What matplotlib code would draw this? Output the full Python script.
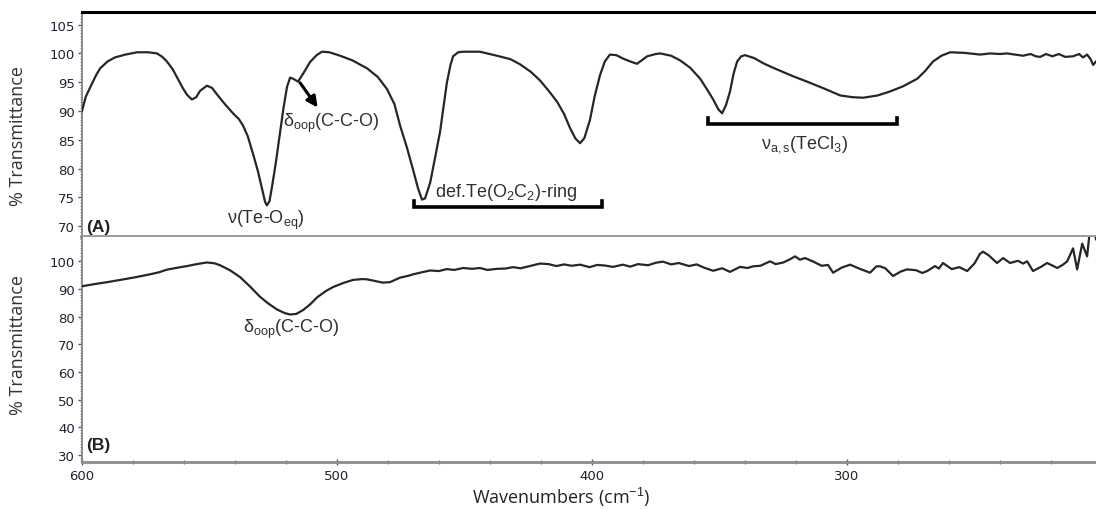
import matplotlib
matplotlib.use("Agg")
import matplotlib.pyplot as plt
from matplotlib.ticker import MultipleLocator, FixedLocator

plt.rcParams['font.family'] = ['Liberation Sans', 'DejaVu Sans']
plt.rcParams['mathtext.fontset'] = 'custom'
plt.rcParams['mathtext.rm'] = 'Liberation Sans'
plt.rcParams['mathtext.it'] = 'Liberation Sans:italic'
plt.rcParams['mathtext.bf'] = 'Liberation Sans:bold'

# ---------------- data ----------------
wn_a = [600, 598.5, 596.9, 594.5, 592.9, 590, 587.1, 583, 578.4, 574, 570.6, 568.5, 566.7,
        564.5, 562.7, 560.5, 558.8, 556.9, 555.2, 553.7, 551.0, 549, 547.1, 544, 540.8,
        538.5, 536.9, 535, 532.9, 531, 529.4, 528.2, 527.5, 526.5, 525.5, 524, 522.4, 521,
        519.6, 518.4, 517.2, 515.3, 513, 510.6, 508, 505.9, 503, 498.8, 494, 488.2, 484,
        480.4, 477.5, 475.3, 472.5, 470.2, 468.2, 466.7, 465.5, 463.5, 461.5, 459.6, 458,
        456.9, 455.5, 454.5, 452.5, 450.6, 444, 437.3, 432, 428.2, 424, 420.4, 417, 413.7,
        411, 408.6, 406.5, 404.7, 403, 400.8, 399, 396.9, 395, 393.0, 390.5, 387.8, 385,
        382.4, 380.5, 378.4, 375, 373.3, 369, 365.5, 361.5, 357.6, 355, 352.5, 350.5, 349.0,
        347.5, 345.9, 344.5, 343.1, 341.5, 340, 336.5, 332.9, 329.5, 326.3, 321, 315.7, 309,
        302.7, 298, 293.7, 288, 283.1, 278, 272.5, 269.5, 266.3, 263, 259.6, 254, 250, 247.8,
        244, 240, 237.3, 234, 231, 228, 226, 224.3, 222, 219.5, 217, 214.5, 211.4, 209,
        207.5, 205.9, 204.5, 203.5, 202.4]
t_a = [90.0, 92.5, 94.0, 96.2, 97.4, 98.6, 99.3, 99.8, 100.2, 100.2, 100.0, 99.4, 98.6,
       97.3, 95.8, 94.0, 92.8, 92.0, 92.4, 93.5, 94.4, 94.0, 92.9, 91.2, 89.6,
       88.6, 87.5, 85.6, 82.5, 79.5, 76.5, 74.2, 73.6, 74.3, 76.8, 81.0, 86.0, 90.5,
       94.2, 95.8, 95.6, 95.1, 96.7, 98.5, 99.7, 100.3, 100.2, 99.6, 98.8, 97.4, 95.9,
       93.8, 91.2, 87.5, 83.5, 79.8, 76.5, 74.6, 74.8, 77.5, 82.0, 86.4, 91.5,
       95.0, 98.0, 99.5, 100.2, 100.3, 100.3, 99.6, 99.0, 98.1, 96.8, 95.3, 93.5, 91.6,
       89.5, 87.0, 85.2, 84.4, 85.3, 88.5, 92.5, 96.2, 98.6, 99.8, 99.7, 99.1, 98.6,
       98.2, 98.8, 99.5, 99.9, 100.0, 99.6, 98.8, 97.5, 95.6, 93.8, 92.0, 90.3, 89.6,
       91.0, 93.4, 96.5, 98.6, 99.5, 99.7, 99.2, 98.3, 97.6, 97.0, 96.0, 95.1, 93.9,
       92.7, 92.4, 92.3, 92.7, 93.4, 94.3, 95.6, 96.9, 98.6, 99.6, 100.2, 100.1, 99.9, 99.8,
       100.0, 99.9, 100.0, 99.8, 99.6, 99.9, 99.5, 99.4, 99.9, 99.5, 99.9, 99.4, 99.5, 99.9,
       99.3, 99.8, 99.0, 98.0, 98.6]

wn_b = [600, 595, 590, 585, 580, 575, 570, 566.7, 562, 558.8, 555, 551, 548, 545.9, 542,
        538, 534, 530.2, 527, 523.5, 520.5, 518.4, 516, 513.3, 510.5, 507.8, 504.5, 501.6,
        497.5, 493.7, 490, 488.2, 485, 482, 479.2, 477, 475.3, 472, 470.2, 467, 463.5, 460,
        457, 454, 450.6, 447, 444, 441, 437.3, 434, 431, 428, 424, 420.4, 417, 414, 411,
        408, 404.7, 401, 398, 395, 391.8, 388, 385, 382, 378, 375, 372.2, 369, 366, 362,
        359, 356, 352.5, 349, 345.9, 342, 339, 336.9, 334, 330.2, 328, 325, 322.5, 320.4,
        318.5, 316.5, 313, 310, 307.5, 305.5, 302, 298.8, 295, 291.0, 288.5, 287.1, 285,
        282.0, 279, 276.5, 273, 270.5, 268.6, 265.5, 264, 262.4, 259, 256, 252.9, 250, 248,
        246.7, 244.5, 241.2, 238.8, 236.1, 233, 231, 229.4, 227.1, 224, 221.6, 219.5, 217.6,
        215.5, 213.7, 211.4, 209.8, 207.8, 205.9, 204.7, 203, 202.4]
t_b = [91.0, 91.8, 92.5, 93.3, 94.1, 95.0, 96.0, 97.0, 97.8, 98.3, 99.0, 99.6, 99.3, 98.6, 96.8,
       94.3, 90.8, 87.2, 84.8, 82.6, 81.3, 80.8, 81.0, 82.4, 84.5, 87.0, 89.2, 90.7,
       92.2, 93.3, 93.6, 93.5, 92.9, 92.3, 92.5, 93.4, 94.1, 94.8, 95.3, 96.0, 96.7, 96.5,
       97.2, 96.9, 97.6, 97.3, 97.6, 96.9, 97.3, 97.4, 97.9, 97.5, 98.4, 99.2, 99.0, 98.3, 98.9,
       98.4, 98.8, 97.9, 98.7, 98.5, 98.0, 98.8, 98.1, 99.0, 98.6, 99.5, 99.9, 98.9, 99.4, 98.3,
       98.9, 97.7, 96.6, 97.5, 96.2, 98.0, 97.6, 98.2, 98.4, 100.0, 99.0, 99.6, 100.7, 101.8,
       100.6, 101.2, 99.8, 98.4, 98.7, 95.9, 97.8, 98.8, 97.3, 95.9, 98.2, 98.2, 97.5,
       94.7, 96.3, 97.1, 96.8, 95.8, 96.5, 98.3, 97.4, 99.4, 97.2, 97.9, 96.5, 99.3, 102.6,
       103.5, 102.2, 99.4, 101.2, 99.4, 100.2, 99.2, 100.0, 96.5, 98.0, 99.4, 98.5, 97.6,
       98.7, 100.0, 104.7, 97.1, 106.4, 101.8, 112, 112, 108]

yticks_a = [70, 75, 80, 85, 90, 95, 100, 105]
yticks_b = [30, 40, 50, 60, 70, 80, 90, 100]
xticks = [600, 500, 400, 300]

# ---------------- figure ----------------
fig = plt.figure(figsize=(10.96, 5.10), dpi=100)
L, W = 82 / 1096, 1 - 82 / 1096
axA = fig.add_axes([L, 1 - 238 / 510, W, 225 / 510])
axB = fig.add_axes([L, 1 - 463 / 510, W, 225 / 510])

line_c = '#262626'
spine_gray = '#8c8c8c'
tick_c = '#1f2233'

axA.plot(wn_a, t_a, color=line_c, lw=1.6, zorder=3)
axB.plot(wn_b, t_b, color=line_c, lw=1.6, zorder=3)

for ax in (axA, axB):
    ax.set_xlim(600, 202.4)
    ax.spines['right'].set_visible(False)
    ax.spines['left'].set_color(spine_gray)
    ax.spines['left'].set_linewidth(1.4)
    ax.tick_params(axis='y', which='major', direction='out', length=3, width=1,
                   color='#555555', labelsize=9.5, labelcolor=tick_c, pad=2)
    ax.tick_params(axis='y', which='minor', direction='out', length=1.5, width=0.6,
                   color='#777777')
    ax.xaxis.set_major_locator(FixedLocator(xticks))
    ax.xaxis.set_minor_locator(MultipleLocator(20))

axA.set_ylim(68.1, 107.2)
axA.yaxis.set_major_locator(FixedLocator(yticks_a))
axA.yaxis.set_minor_locator(MultipleLocator(0.5))
axA.spines['top'].set_color('black')
axA.spines['top'].set_linewidth(2.2)
axA.spines['bottom'].set_color('#9a9a9a')
axA.spines['bottom'].set_linewidth(2.8)
axA.tick_params(axis='x', which='both', length=0, labelbottom=False)

axB.set_ylim(27.5, 108.8)
axB.yaxis.set_major_locator(FixedLocator(yticks_b))
axB.yaxis.set_minor_locator(MultipleLocator(1))
axB.spines['top'].set_visible(False)
axB.spines['bottom'].set_color(spine_gray)
axB.spines['bottom'].set_linewidth(2.0)
axB.tick_params(axis='x', which='major', direction='inout', length=4, width=1,
                color='#555555', labelsize=9.5, labelcolor=tick_c, pad=3)
axB.tick_params(axis='x', which='minor', direction='inout', length=3, width=0.8,
                color='#666666')

axA.set_yticklabels([str(v) for v in yticks_a], family='DejaVu Sans')
axB.set_yticklabels([str(v) for v in yticks_b], family='DejaVu Sans')
axB.set_xticklabels([str(v) for v in xticks], family='DejaVu Sans')

txt_c = '#303030'
fs = 13

# panel letters
axA.text(598.4, 69.9, '(A)', fontsize=12.5, fontweight='bold', va='center', ha='left', color='#222')
axB.text(598.4, 34.0, '(B)', fontsize=12.5, fontweight='bold', va='center', ha='left', color='#222')

# annotations panel A
axA.text(527.8, 71.2, 'ν(Te-O$_{\\mathrm{eq}}$)', fontsize=fs, ha='center', va='center', color=txt_c)
axA.text(521.2, 88.0, 'δ$_{\\mathrm{oop}}$(C-C-O)', fontsize=fs, ha='left', va='center', color=txt_c)
axA.annotate('', xy=(507.6, 90.6), xytext=(514.5, 94.9),
             arrowprops=dict(arrowstyle='-|>', lw=2.2, color='black', mutation_scale=16,
                             shrinkA=0, shrinkB=0))
axA.text(461.5, 76.0, 'def.Te(O$_{2}$C$_{2}$)-ring', fontsize=fs, ha='left', va='center',
         color=txt_c, bbox=dict(facecolor='white', edgecolor='none', pad=0.3), zorder=4)
axA.plot([470, 470, 396.2, 396.2], [74.3, 73.3, 73.3, 74.3], color='black', lw=2.6,
         solid_joinstyle='miter', zorder=5)
axA.plot([354.4, 354.4, 280.5, 280.5], [88.8, 87.8, 87.8, 88.8], color='black', lw=2.6,
         solid_joinstyle='miter', zorder=5)
axA.text(316.5, 84.3, 'ν$_{\\mathrm{a,s}}$(TeCl$_{3}$)', fontsize=fs, ha='center', va='center', color=txt_c)

# annotation panel B
axB.text(518.0, 75.9, 'δ$_{\\mathrm{oop}}$(C-C-O)', fontsize=fs, ha='center', va='center', color=txt_c)

# axis labels
fig.text(18 / 1096, 1 - 136 / 510, '% Transmittance', rotation=90, ha='center', va='center',
         fontsize=13, family='Open Sans', color='#333')
fig.text(18 / 1096, 1 - 345 / 510, '% Transmittance', rotation=90, ha='center', va='center',
         fontsize=13, family='Open Sans', color='#333')
fig.text(561 / 1096, 1 - 497 / 510, 'Wavenumbers (cm$^{-1}$)', ha='center', va='center',
         fontsize=13, family='Open Sans', color='#222')

fig.savefig('out.png', dpi=100)
